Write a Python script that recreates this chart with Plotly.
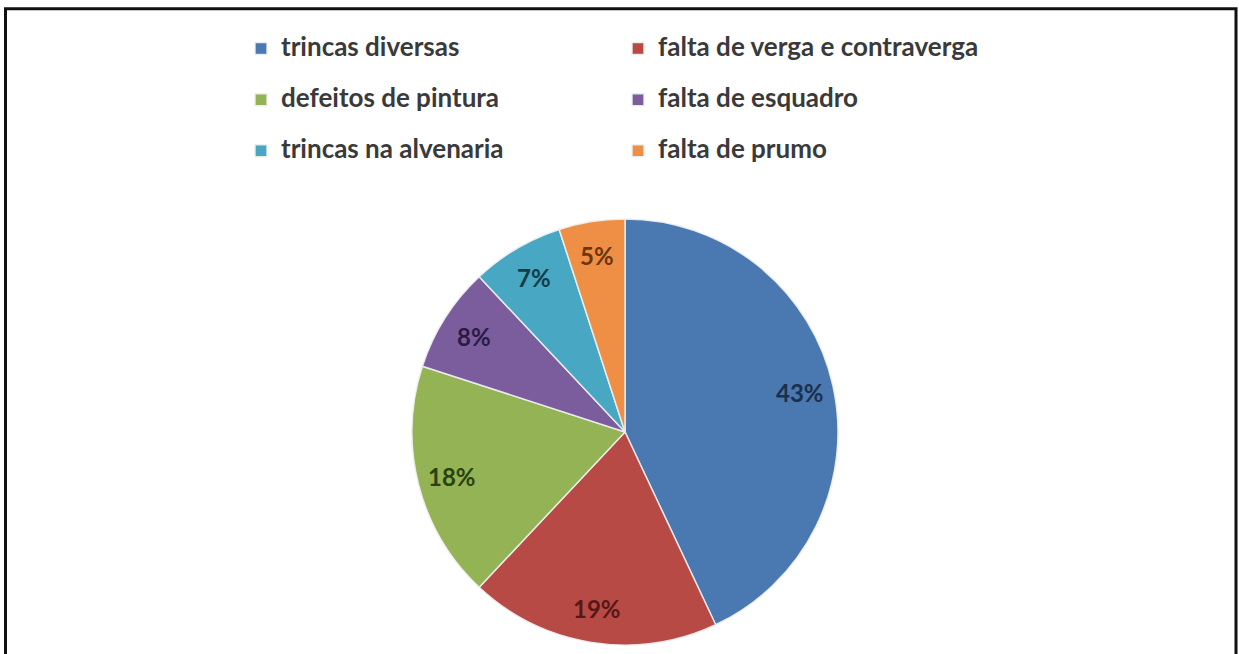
import math
import plotly.graph_objects as go

# Causes of pathologies observed in the buildings (share of occurrences, %)
categories = [
    "trincas diversas",
    "falta de verga e contraverga",
    "defeitos de pintura",
    "falta de esquadro",
    "trincas na alvenaria",
    "falta de prumo",
]
shares = [43, 19, 18, 8, 7, 5]

slice_colors = ["#4A78B0", "#B84A46", "#93B354", "#7B5D9E", "#48A7C2", "#EE8F45"]
label_colors = ["#1C2F4D", "#561816", "#2C4110", "#2A1B42", "#123C48", "#6A360E"]

W, H = 1239, 654
ML, MR, MT, MB = 175, 165, 0, 0
PW = W - ML - MR
PH = H - MT - MB


def px_x(v):
    return (v - ML) / PW


def px_y(v):
    return 1 - (v - MT) / PH


# Legend entries: an empty second line gives the rows their height
legend_labels = [f"<span style='font-size:26px'>{c}</span><br>" for c in categories]

cx, cy, r = 625, 432, 213

fig = go.Figure(
    go.Pie(
        labels=legend_labels,
        values=shares,
        sort=False,
        direction="clockwise",
        rotation=0,
        marker=dict(colors=slice_colors, line=dict(color="rgba(240,240,240,0.9)", width=1.5)),
        textinfo="none",
        hoverinfo="skip",
        domain=dict(x=[px_x(cx - r), px_x(cx + r)], y=[px_y(cy + r), px_y(cy - r)]),
    )
)

# Percentage labels placed along each slice's bisector, towards the rim
total = sum(shares)
annotations = []
cum = 0
for val, col in zip(shares, label_colors):
    mid = (cum + val / 2) / total * 2 * math.pi
    cum += val
    lx = cx + 0.84 * r * math.sin(mid)
    ly = cy - 0.84 * r * math.cos(mid)
    annotations.append(
        dict(
            x=px_x(lx),
            y=px_y(ly),
            xref="paper",
            yref="paper",
            text=f"{val}%",
            showarrow=False,
            font=dict(family="Lato", size=24, color=col, weight="bold"),
            xanchor="center",
            yanchor="middle",
        )
    )

fig.update_layout(
    width=W,
    height=H,
    margin=dict(l=ML, r=MR, t=MT, b=MB),
    paper_bgcolor="white",
    plot_bgcolor="white",
    showlegend=True,
    legend=dict(
        orientation="h",
        x=px_x(241),
        xanchor="left",
        y=px_y(30),
        yanchor="top",
        entrywidth=332,
        valign="top",
        bgcolor="rgba(0,0,0,0)",
        font=dict(family="Lato", size=18.5, color="#3A3A3A", weight="bold"),
        traceorder="normal",
    ),
    annotations=annotations,
    shapes=[
        dict(
            type="rect",
            xref="paper",
            yref="paper",
            x0=px_x(5.5),
            x1=px_x(1236),
            y0=px_y(665),
            y1=px_y(8.8),
            line=dict(color="#111111", width=3),
            fillcolor="rgba(0,0,0,0)",
            layer="above",
        )
    ],
)

fig.write_html("out.html")
